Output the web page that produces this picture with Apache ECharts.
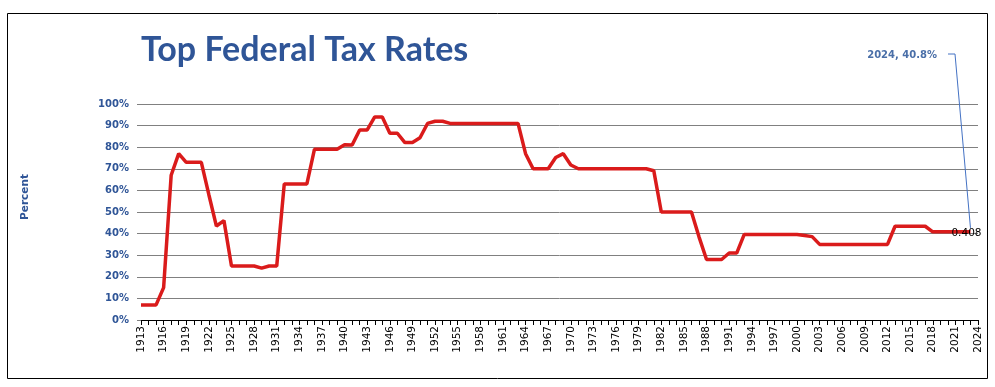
<!DOCTYPE html>
<html>
<head>
<meta charset="utf-8">
<script src="https://cdn.jsdelivr.net/npm/echarts@6/dist/echarts.min.js"></script>
<style>
html,body{margin:0;padding:0;background:#fff;}
#chart{width:995px;height:387px;}
</style>
</head>
<body>
<div id="chart"></div>
<script>
// Years 1913..2024 (axis categories)
const years = [];
for (let y = 1913; y <= 2024; y++) years.push(String(y));

// Top federal income tax rate (fraction), 1913..2023
const rates = [
  0.07, 0.07, 0.07, 0.15, 0.67, 0.77, 0.73, 0.73, 0.73, 0.58,   // 1913-1922
  0.435, 0.46, 0.25, 0.25, 0.25, 0.25, 0.24, 0.25, 0.25, 0.63,  // 1923-1932
  0.63, 0.63, 0.63, 0.79, 0.79, 0.79, 0.79, 0.811, 0.81, 0.88,  // 1933-1942
  0.88, 0.94, 0.94, 0.8645, 0.8645, 0.8213, 0.8213, 0.8436, 0.91, 0.92, // 1943-1952
  0.92, 0.91, 0.91, 0.91, 0.91, 0.91, 0.91, 0.91, 0.91, 0.91,   // 1953-1962
  0.91, 0.77, 0.70, 0.70, 0.70, 0.7525, 0.77, 0.7175, 0.70, 0.70, // 1963-1972
  0.70, 0.70, 0.70, 0.70, 0.70, 0.70, 0.70, 0.70, 0.6913, 0.50, // 1973-1982
  0.50, 0.50, 0.50, 0.50, 0.385, 0.28, 0.28, 0.28, 0.31, 0.31,  // 1983-1992
  0.396, 0.396, 0.396, 0.396, 0.396, 0.396, 0.396, 0.396, 0.391, 0.386, // 1993-2002
  0.35, 0.35, 0.35, 0.35, 0.35, 0.35, 0.35, 0.35, 0.35, 0.35,   // 2003-2012
  0.434, 0.434, 0.434, 0.434, 0.434, 0.408, 0.408, 0.408, 0.408, 0.408, // 2013-2022
  0.408                                                         // 2023
];

const titleText = 'Top Federal Tax Rates';
const yName = 'Percent';
const calloutText = '2024, 40.8%';

const chart = echarts.init(document.getElementById('chart'), null, {renderer: 'canvas'});
const lastIdx = rates.length - 1;

const option = {
  animation: false,
  backgroundColor: '#ffffff',
  title: {
    text: titleText,
    left: 136,
    top: 28,
    textStyle: {fontFamily: 'Lato', fontWeight: 'bold', fontSize: 34, color: '#2F5597'}
  },
  grid: {left: 141, right: 17, top: 104, bottom: 67, containLabel: false},
  xAxis: {
    type: 'category',
    data: years,
    boundaryGap: false,
    axisLine: {show: true, lineStyle: {color: '#000000', width: 1}},
    axisTick: {show: true, interval: 0, length: 5, lineStyle: {color: '#000000'}},
    axisLabel: {
      interval: 2, rotate: 90, color: '#000000',
      fontFamily: 'DejaVu Sans', fontSize: 10.5, margin: 6
    },
    splitLine: {show: false}
  },
  yAxis: {
    type: 'value',
    min: 0, max: 1, interval: 0.1,
    axisLine: {show: false},
    axisTick: {show: true, length: 4, lineStyle: {color: '#808080'}},
    axisLabel: {
      color: '#2F5597', fontFamily: 'DejaVu Sans', fontWeight: 'bold', fontSize: 10, margin: 12,
      formatter: v => Math.round(v * 100) + '%'
    },
    splitLine: {show: true, lineStyle: {color: '#808080', width: 1}}
  },
  series: [{
    type: 'line',
    data: rates,
    symbol: 'none',
    lineStyle: {color: '#DA1B1B', width: 3.5},
    itemStyle: {color: '#DA1B1B'},
    label: {show: false},
    markPoint: {
      symbol: 'circle', symbolSize: 0,
      data: [{coord: [lastIdx, rates[lastIdx]], value: rates[lastIdx]}],
      label: {
        show: true, position: 'inside', offset: [-4, 1],
        formatter: p => String(p.value),
        color: '#000000', fontFamily: 'DejaVu Sans', fontSize: 10.5
      }
    }
  }],
  graphic: [
    {type: 'rect', shape: {x: 7.5, y: 13.5, width: 980, height: 365}, style: {fill: 'none', stroke: '#000000', lineWidth: 1}, silent: true, z: 100},
    {type: 'text', x: 25, y: 197, rotation: Math.PI / 2,
     style: {text: yName, fill: '#2F5597', font: 'bold 10.5px "DejaVu Sans"', textAlign: 'center', textVerticalAlign: 'middle'}},
    {type: 'text', x: 937, y: 55,
     style: {text: calloutText, fill: '#4A6FA8', font: 'bold 10px "DejaVu Sans"', textAlign: 'right', textVerticalAlign: 'middle'}}
  ]
};
chart.setOption(option);

// leader line from callout to last data point
const pt = chart.convertToPixel({seriesIndex: 0}, [lastIdx, rates[lastIdx]]);
chart.setOption({
  graphic: option.graphic.concat([{
    type: 'polyline',
    shape: {points: [[948, 54], [955, 54], [pt[0], pt[1] - 4]]},
    style: {stroke: '#4472C4', lineWidth: 1, fill: 'none'},
    z: 50
  }])
});
</script>
</body>
</html>
